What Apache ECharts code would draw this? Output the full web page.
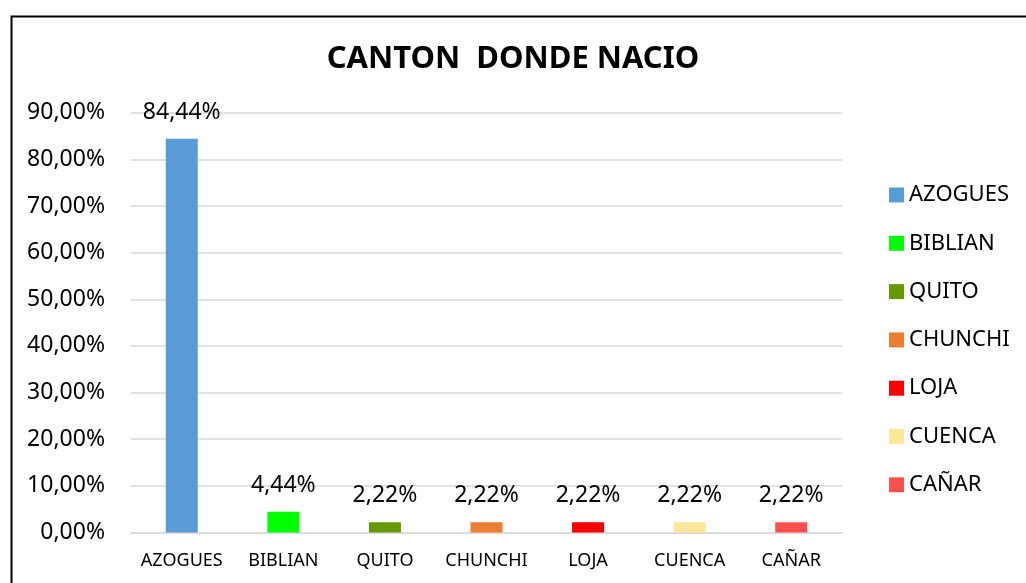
<!DOCTYPE html>
<html>
<head>
<meta charset="utf-8">
<script src="https://cdn.jsdelivr.net/npm/echarts@6/dist/echarts.min.js"></script>
<style>html,body{margin:0;padding:0;background:#fff;}#c{width:1026px;height:583px;}</style>
</head>
<body>
<div id="c"></div>
<script>
const categories = ['AZOGUES', 'BIBLIAN', 'QUITO', 'CHUNCHI', 'LOJA', 'CUENCA', 'CAÑAR'];
const values = [84.44, 4.44, 2.22, 2.22, 2.22, 2.22, 2.22];
const colors = ['#5b9bd5', '#00ff00', '#669900', '#ed7d31', '#ff0000', '#ffe699', '#ff5050'];
const yTicks = [0, 10, 20, 30, 40, 50, 60, 70, 80, 90];
const titleText = 'CANTON  DONDE NACIO';

const FONT = 'Noto Sans';
const fmt = v => v.toFixed(2).replace('.', ',') + '%';

const series = categories.map((name, i) => ({
  name: name,
  type: 'bar',
  stack: 'all',
  barWidth: 32,
  itemStyle: { color: colors[i] },
  data: categories.map((c, j) => (j === i ? values[i] : null)),
  label: {
    show: true,
    position: 'top',
    distance: 15,
    color: '#000',
    fontFamily: FONT,
    fontSize: 23,
    formatter: p => (p.value == null ? '' : fmt(p.value))
  }
}));

const chart = echarts.init(document.getElementById('c'), null, { renderer: 'canvas' });
chart.setOption({
  animation: false,
  backgroundColor: '#fff',
  title: {
    text: titleText,
    left: 'center',
    top: 39,
    textStyle: { fontFamily: FONT, fontWeight: 'bold', fontSize: 31, color: '#000' }
  },
  legend: {
    orient: 'vertical',
    left: 884,
    top: 179,
    itemWidth: 15,
    itemHeight: 15,
    itemGap: 26.3,
    icon: 'rect',
    data: categories,
    textStyle: { fontFamily: FONT, fontSize: 22, color: '#000', lineHeight: 22 }
  },
  grid: { left: 131, right: 184, top: 112.7, bottom: 50.5, containLabel: false },
  xAxis: {
    type: 'category',
    data: categories,
    axisLine: { show: true, lineStyle: { color: '#d9d9d9', width: 1.5 } },
    axisTick: { show: false },
    axisLabel: { interval: 0, color: '#000', fontFamily: FONT, fontSize: 18, margin: 19 }
  },
  yAxis: {
    type: 'value',
    min: yTicks[0],
    max: yTicks[yTicks.length - 1],
    interval: yTicks[1] - yTicks[0],
    axisLine: { show: false },
    axisTick: { show: false },
    splitLine: { lineStyle: { color: '#d9d9d9', width: 1.5 } },
    axisLabel: { color: '#000', fontFamily: FONT, fontSize: 23, margin: 26, formatter: v => fmt(v) }
  },
  graphic: [{
    type: 'rect',
    left: 9, top: 14,
    shape: { width: 1040, height: 600 },
    style: { fill: null, stroke: '#000', lineWidth: 2 },
    silent: true
  }],
  series: series
});
</script>
</body>
</html>
